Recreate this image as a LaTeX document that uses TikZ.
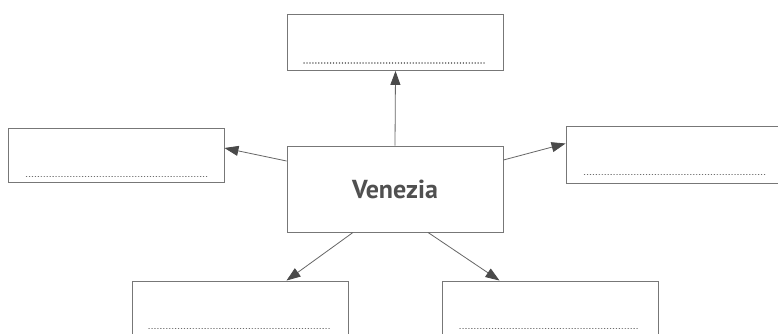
\documentclass[tikz,border=0pt]{standalone}
\usepackage{fontspec}
\setsansfont{PT Sans}
\usetikzlibrary{arrows.meta}
\definecolor{boxgray}{HTML}{777777}
\definecolor{linegray}{HTML}{666666}
\definecolor{headgray}{HTML}{4A4A4A}
\definecolor{textgray}{HTML}{505050}
\definecolor{dotgray}{HTML}{6E6E6E}
\tikzset{
  box/.style={draw=boxgray, line width=0.9pt, minimum width=216pt, minimum height=56pt, inner sep=0pt, fill=white},
  dotline/.style={draw=dotgray, line width=1.5pt, line cap=round, dash pattern=on 0.05pt off 2.9pt},
  conn/.style={draw=linegray, line width=0.8pt, -{Triangle[length=14pt,width=10pt,fill=headgray,color=headgray]}},
}
\begin{document}
\begin{tikzpicture}[x=1pt,y=-1pt]
\clip (0,0) rectangle (778,334);
\fill[white] (0,0) rectangle (778,334);
% boxes
\node[box] (top) at (395.5,42.5) {};
\node[box, minimum height=54pt] (lft) at (116,155) {};
\node[box, minimum height=57pt] (rgt) at (674,154.5) {};
\node[box, minimum height=86pt] (ctr) at (395,189) {\sffamily\bfseries\fontsize{26}{30}\selectfont\color{textgray}Venezia};
\node[box, minimum height=58pt] (bl) at (240.5,310) {};
\node[box, minimum height=58pt] (br) at (550.5,310) {};
% dotted answer lines
\draw[dotline] ([xshift=17pt,yshift=8pt]top.south west) -- ([xshift=-18pt,yshift=8pt]top.south east);
\draw[dotline] ([xshift=19pt,yshift=6pt]lft.south west) -- ([xshift=-17pt,yshift=6pt]lft.south east);
\draw[dotline] ([xshift=19pt,yshift=9pt]rgt.south west) -- ([xshift=-17pt,yshift=9pt]rgt.south east);
\draw[dotline] ([xshift=17pt,yshift=11pt]bl.south west) -- ([xshift=-18pt,yshift=11pt]bl.south east);
\draw[dotline] ([xshift=18pt,yshift=11pt]br.south west) -- ([xshift=-19pt,yshift=11pt]br.south east);
% connectors
\draw[conn] (ctr.north) -- (top.south);
\draw[conn] ([yshift=28pt]ctr.west) -- ([yshift=7pt]lft.east);
\draw[conn] ([yshift=29pt]ctr.east) -- ([yshift=11pt]rgt.west);
\draw[conn] ([xshift=-42pt]ctr.south) -- ([xshift=46pt]bl.north);
\draw[conn] ([xshift=33pt]ctr.south) -- ([xshift=-51pt]br.north);
\end{tikzpicture}
\end{document}
